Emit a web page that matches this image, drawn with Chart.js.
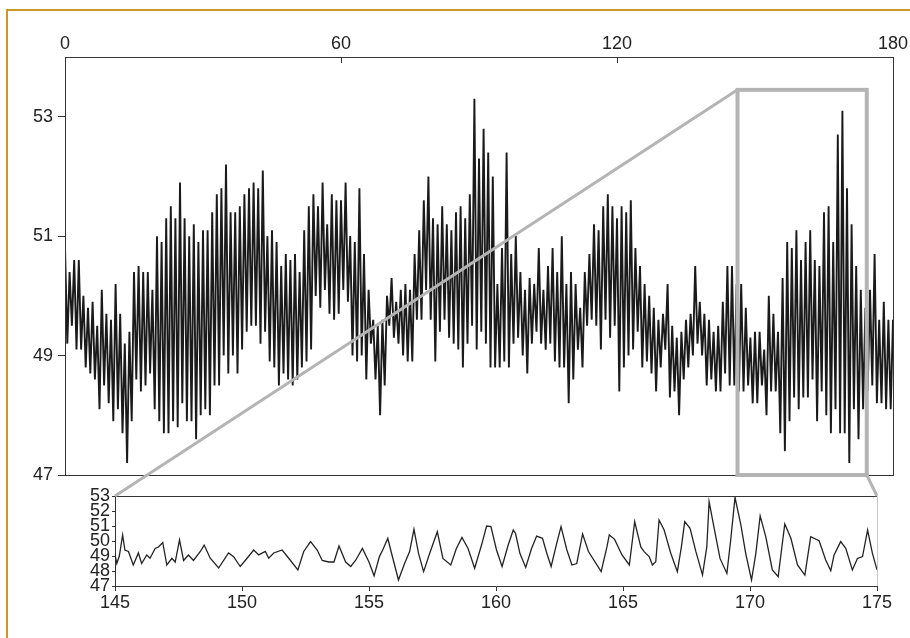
<!DOCTYPE html>
<html>
<head>
<meta charset="UTF-8">
<title>Series with zoomed detail</title>
<script src="https://cdn.jsdelivr.net/npm/chart.js"></script>
<style>
  body { margin: 0; background: #fff; }
  #wrap { position: relative; width: 910px; height: 638px; overflow: hidden; }
  #frame { position: absolute; left: 6px; top: 9px; width: 920px; height: 650px;
           border-top: 2px solid #c99a2a; border-left: 2px solid #c99a2a; }
  canvas { position: absolute; left: 0; top: 0; }
</style>
</head>
<body>
<div id="wrap">
  <div id="frame"></div>
  <canvas id="mainChart" width="910" height="638"></canvas>
  <canvas id="zoomChart" width="910" height="638"></canvas>
</div>
<script>
// main panel: one high and one low per time unit, 0..180
const mainHigh = [
  50.8, 50.4, 50.6, 50.6, 50.0, 49.8, 49.9, 49.5, 50.1, 49.7,
  49.6, 50.2, 49.7, 49.2, 49.4, 50.4, 50.5, 50.4, 50.4, 50.1,
  51.0, 50.9, 51.3, 51.5, 51.3, 51.9, 51.3, 51.0, 51.2, 50.9,
  51.1, 51.1, 51.4, 51.7, 51.8, 52.2, 51.4, 51.4, 51.5, 51.7,
  51.8, 51.9, 51.8, 52.1, 51.0, 51.1, 50.9, 50.5, 50.7, 50.6,
  50.7, 50.4, 51.1, 51.5, 51.7, 51.5, 51.9, 51.2, 51.7, 51.6,
  51.6, 51.9, 51.0, 50.9, 51.8, 50.7, 50.1, 49.6, 49.5, 49.6,
  50.0, 50.3, 49.9, 50.1, 50.2, 50.1, 50.7, 51.1, 51.6, 52.0,
  51.3, 51.2, 51.5, 51.2, 51.1, 51.4, 51.5, 51.3, 51.7, 53.3,
  52.3, 52.8, 52.4, 52.0, 50.2, 50.8, 52.4, 50.7, 51.0, 50.4,
  50.1, 50.3, 50.2, 50.8, 50.1, 50.5, 50.8, 50.4, 51.0, 50.2,
  50.4, 50.2, 49.8, 50.4, 50.7, 51.2, 51.1, 51.5, 51.7, 51.5,
  51.3, 51.5, 51.4, 51.6, 50.8, 50.5, 50.2, 50.0, 49.8, 49.6,
  49.7, 50.2, 49.5, 49.3, 49.4, 49.6, 49.7, 50.5, 49.9, 49.7,
  49.6, 49.4, 49.5, 49.9, 50.5, 50.5, 50.2, 50.2, 49.8, 49.3,
  49.4, 49.4, 49.1, 50.0, 49.7, 49.4, 50.3, 50.9, 50.8, 51.1,
  50.6, 50.9, 51.1, 50.6, 50.5, 51.4, 51.5, 50.9, 52.7, 53.1,
  51.8, 51.2, 50.5, 50.1, 49.8, 50.1, 50.7, 49.6, 49.9, 49.6,
  49.6
];
const mainLow = [
  49.2, 49.5, 49.1, 49.1, 48.8, 48.7, 48.6, 48.1, 48.5, 48.2,
  47.9, 48.1, 47.7, 47.2, 47.9, 48.6, 48.4, 48.5, 48.7, 48.1,
  47.9, 47.7, 47.7, 47.9, 47.8, 48.2, 47.9, 47.9, 47.6, 48.0,
  48.1, 48.0, 48.5, 48.5, 49.0, 48.7, 49.0, 48.7, 49.1, 49.4,
  49.5, 49.5, 49.2, 49.4, 48.9, 48.8, 48.5, 48.7, 48.6, 48.5,
  48.6, 48.8, 48.9, 49.1, 50.0, 49.8, 50.1, 49.7, 49.6, 49.7,
  50.1, 49.9, 49.0, 48.9, 49.0, 48.6, 49.2, 48.6, 48.0, 48.5,
  49.5, 49.3, 49.2, 49.0, 48.9, 48.9, 49.6, 49.6, 50.1, 49.6,
  48.9, 49.4, 49.6, 49.3, 49.2, 49.1, 48.8, 49.2, 49.5, 49.1,
  49.4, 49.2, 48.8, 48.8, 48.8, 48.9, 48.8, 49.2, 49.3, 49.0,
  48.7, 49.2, 49.4, 49.2, 49.1, 49.2, 48.9, 48.8, 48.8, 48.2,
  48.6, 49.1, 48.8, 49.5, 49.6, 49.5, 49.1, 49.6, 49.3, 49.5,
  48.4, 48.8, 49.0, 49.1, 49.4, 48.8, 48.9, 48.7, 48.4, 48.8,
  49.1, 48.3, 48.4, 48.0, 48.6, 48.8, 49.0, 49.2, 49.0, 48.5,
  48.6, 48.4, 48.4, 48.7, 48.5, 48.5, 48.4, 48.4, 48.5, 48.2,
  48.2, 48.5, 48.0, 48.4, 48.4, 47.7, 47.4, 47.9, 48.3, 48.1,
  48.3, 48.3, 48.6, 47.9, 48.4, 48.0, 47.7, 48.1, 47.7, 47.7,
  47.2, 48.1, 47.6, 48.1, 48.4, 48.5, 48.2, 48.2, 48.1, 48.1,
  48.4
];
const mainXTicks = [0, 60, 120, 180];
const mainYTicks = [47, 49, 51, 53];

// highlighted window in the main panel
const boxX = [146.2, 174.3];
const boxTop = 53.45;

// zoomed panel, 145..175
const zoomX = [
  145.0, 145.07, 145.17, 145.3, 145.39, 145.53, 145.72, 145.92, 146.05, 146.25,
  146.38, 146.58, 146.71, 146.88, 147.04, 147.24, 147.37, 147.54, 147.7, 147.89,
  148.09, 148.36, 148.51, 148.75, 149.08, 149.47, 149.67, 149.93, 150.2, 150.46,
  150.66, 150.92, 151.05, 151.25, 151.58, 151.84, 152.2, 152.43, 152.7, 152.96,
  153.16, 153.42, 153.62, 153.82, 154.08, 154.28, 154.47, 154.74, 155.0, 155.2,
  155.41, 155.54, 155.74, 155.87, 156.16, 156.4, 156.6, 156.77, 156.95, 157.15,
  157.39, 157.69, 157.91, 158.22, 158.44, 158.66, 158.9, 159.16, 159.43, 159.63,
  159.8, 160.02, 160.24, 160.48, 160.68, 160.77, 160.94, 161.17, 161.4, 161.6,
  161.83, 162.0, 162.17, 162.39, 162.56, 162.79, 162.99, 163.18, 163.41, 163.64,
  164.14, 164.37, 164.46, 164.67, 164.96, 165.25, 165.46, 165.7, 165.83, 166.03,
  166.16, 166.29, 166.42, 166.62, 166.88, 167.14, 167.3, 167.43, 167.64, 167.87,
  168.13, 168.3, 168.39, 168.59, 168.82, 169.09, 169.24, 169.41, 169.64, 169.83,
  170.06, 170.23, 170.4, 170.62, 170.88, 171.11, 171.24, 171.37, 171.61, 171.87,
  172.16, 172.29, 172.39, 172.72, 172.98, 173.18, 173.31, 173.57, 173.77, 174.03,
  174.23, 174.43, 174.63, 174.82, 175.0
];
const zoomY = [
  49.07, 48.5, 49.0, 50.4, 49.4, 49.3, 48.4, 49.2, 48.5, 49.07,
  48.85, 49.5, 49.6, 49.9, 48.4, 48.85, 48.6, 50.07, 48.7, 49.07,
  48.7, 49.3, 49.73, 48.85, 48.2, 49.2, 48.96, 48.3, 48.85, 49.4,
  49.07, 49.3, 48.85, 49.2, 49.4, 48.85, 48.07, 49.3, 49.96, 49.4,
  48.7, 48.6, 48.6, 49.67, 48.6, 48.3, 48.7, 49.5, 48.6, 47.68,
  48.96, 49.4, 50.18, 49.3, 47.4, 48.5, 49.3, 50.78, 49.18, 47.96,
  49.18, 50.62, 48.84, 48.4, 49.5, 50.24, 49.5, 48.18, 49.73, 51.0,
  50.96, 49.4, 48.3, 49.73, 50.73, 50.5, 49.18, 48.24, 49.5, 50.33,
  50.18, 49.18, 48.3, 49.84, 50.96, 49.4, 48.4, 48.5, 50.47, 49.3,
  47.96, 49.62, 50.4, 50.11, 49.07, 48.4, 51.29, 49.6, 49.29, 48.96,
  48.4, 48.62, 51.4, 50.73, 49.18, 47.96, 49.62, 51.29, 50.84, 49.29,
  47.73, 49.62, 52.62, 50.84, 48.84, 47.84, 50.07, 52.91, 51.07, 49.18,
  47.4, 49.18, 51.67, 50.29, 48.07, 47.62, 49.4, 51.13, 50.18, 48.4,
  47.73, 49.18, 50.29, 50.02, 48.73, 48.02, 49.07, 49.96, 49.51, 48.07,
  48.84, 48.96, 50.73, 49.18, 48.07
];
const zoomXTicks = [145, 150, 155, 160, 165, 170, 175];
const zoomYTicks = [47, 48, 49, 50, 51, 52, 53];

const FONT = { family: "'Liberation Sans Narrow', 'Liberation Sans', Arial, sans-serif", size: 18 };
const AXIS = '#333';
const GREY = '#b4b4b4';

const mainPoints = [];
for (let i = 0; i < mainHigh.length; i++) {
  mainPoints.push({ x: i, y: mainHigh[i] });
  if (i < mainHigh.length - 1) mainPoints.push({ x: i + 0.5, y: mainLow[i] });
}
const zoomPoints = zoomX.map((x, i) => ({ x: x, y: zoomY[i] }));

function setTicks(list) {
  return s => { s.ticks = list.map(v => ({ value: v })); };
}
function fixSize(w, h) {
  return s => {
    if (w) s.width = w;
    if (h) s.height = h;
    s.paddingLeft = 0; s.paddingRight = 0;
    s.paddingTop = 0; s.paddingBottom = 0;
  };
}

const mainFrame = {
  id: 'mainFrame',
  afterDatasetsDraw(chart) {
    const { ctx, chartArea: a, scales: { x, y } } = chart;
    ctx.save();
    ctx.strokeStyle = AXIS;
    ctx.lineWidth = 1;
    ctx.strokeRect(a.left + 0.5, a.top + 0.5, a.right - a.left, a.bottom - a.top);
    const l = x.getPixelForValue(boxX[0]), r = x.getPixelForValue(boxX[1]);
    const t = y.getPixelForValue(boxTop), b = y.getPixelForValue(y.min);
    ctx.strokeStyle = GREY;
    ctx.lineWidth = 4;
    ctx.strokeRect(l, t, r - l, b - t);
    ctx.restore();
  }
};

const mainChart = new Chart(document.getElementById('mainChart'), {
  type: 'line',
  data: {
    datasets: [{
      data: mainPoints,
      borderColor: '#1a1a1a',
      borderWidth: 1.9,
      pointRadius: 0,
      tension: 0
    }]
  },
  options: {
    responsive: false,
    animation: false,
    events: [],
    layout: { padding: { left: 25, top: 27, right: 17, bottom: 163 } },
    plugins: { legend: { display: false }, tooltip: { enabled: false } },
    scales: {
      x: {
        type: 'linear', position: 'top', min: 0, max: 180,
        afterBuildTicks: setTicks(mainXTicks),
        afterFit: fixSize(0, 30),
        grid: { drawOnChartArea: false, tickLength: -6, color: AXIS },
        border: { color: AXIS },
        ticks: { font: FONT, color: '#222', padding: 8, maxRotation: 0 }
      },
      y: {
        type: 'linear', min: 47, max: 54,
        afterBuildTicks: setTicks(mainYTicks),
        afterFit: fixSize(40, 0),
        grid: { drawOnChartArea: false, tickLength: 7, color: AXIS },
        border: { color: AXIS },
        ticks: { font: FONT, color: '#222', padding: 5 }
      }
    }
  },
  plugins: [mainFrame]
});

const links = {
  id: 'links',
  afterDraw(chart) {
    const { ctx, chartArea: a, scales: { x, y } } = chart;
    const mx = mainChart.scales.x, my = mainChart.scales.y;
    ctx.save();
    ctx.lineWidth = 1;
    ctx.strokeStyle = AXIS;
    ctx.beginPath();
    ctx.moveTo(a.left, a.top + 0.5);
    ctx.lineTo(a.right, a.top + 0.5);
    ctx.stroke();
    ctx.strokeStyle = '#c8c8c8';
    ctx.beginPath();
    ctx.moveTo(a.right + 0.5, a.top);
    ctx.lineTo(a.right + 0.5, a.bottom);
    ctx.stroke();
    ctx.strokeStyle = GREY;
    ctx.lineWidth = 3;
    ctx.beginPath();
    ctx.moveTo(mx.getPixelForValue(boxX[0]), my.getPixelForValue(boxTop));
    ctx.lineTo(x.getPixelForValue(x.min), y.getPixelForValue(y.max));
    ctx.moveTo(mx.getPixelForValue(boxX[1]), my.getPixelForValue(my.min));
    ctx.lineTo(x.getPixelForValue(x.max), y.getPixelForValue(y.max));
    ctx.stroke();
    ctx.restore();
  }
};

new Chart(document.getElementById('zoomChart'), {
  type: 'line',
  data: {
    datasets: [{
      data: zoomPoints,
      borderColor: '#222',
      borderWidth: 1.3,
      pointRadius: 0,
      tension: 0
    }]
  },
  options: {
    responsive: false,
    animation: false,
    events: [],
    layout: { padding: { left: 75, top: 496, right: 33, bottom: 22 } },
    plugins: { legend: { display: false }, tooltip: { enabled: false } },
    scales: {
      x: {
        type: 'linear', position: 'bottom', min: 145, max: 175,
        afterBuildTicks: setTicks(zoomXTicks),
        afterFit: fixSize(0, 30),
        grid: { drawOnChartArea: false, tickLength: 5, color: AXIS },
        border: { color: AXIS },
        ticks: { font: FONT, color: '#222', padding: 1, maxRotation: 0, autoSkip: false }
      },
      y: {
        type: 'linear', min: 47, max: 53,
        afterBuildTicks: setTicks(zoomYTicks),
        afterFit: fixSize(40, 0),
        grid: { drawOnChartArea: false, tickLength: 3, color: AXIS },
        border: { color: AXIS },
        ticks: { font: FONT, color: '#222', padding: 2, autoSkip: false }
      }
    }
  },
  plugins: [links]
});
</script>
</body>
</html>
